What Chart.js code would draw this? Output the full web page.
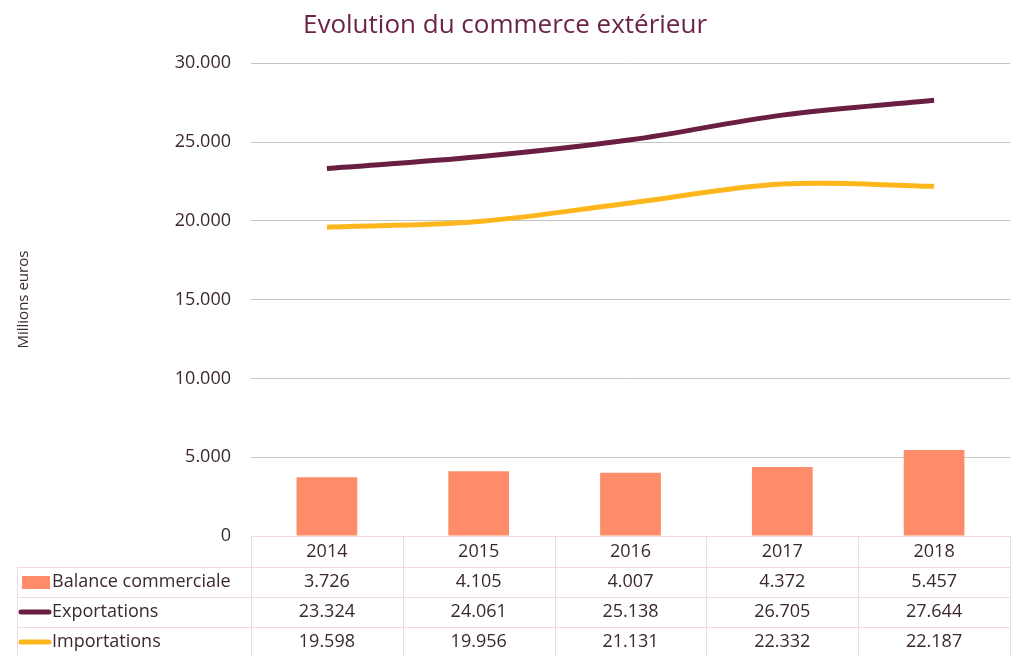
<!DOCTYPE html>
<html>
<head>
<meta charset="utf-8">
<script src="https://cdn.jsdelivr.net/npm/chart.js@4"></script>
<style>
    html, body { margin: 0; padding: 0; background: #fff; }
    #wrap { width: 1017px; height: 657px; }
</style>
</head>
<body>
<div id="wrap"><canvas id="chart"></canvas></div>
<script>
const years = ["2014", "2015", "2016", "2017", "2018"];
const balanceValues = [3726, 4105, 4007, 4372, 5457];
const exportValues = [23324, 24061, 25138, 26705, 27644];
const importValues = [19598, 19956, 21131, 22332, 22187];

const FONT = "'Open Sans', 'Noto Sans', sans-serif";
const TEXT_COLOR = "#3b2830";
const BORDER_COLOR = "#f0d9e5";

function formatNumber(value) {
    return String(value).replace(/\B(?=(\d{3})+(?!\d))/g, ".");
}

// table under the plot, columns follow the x scale
const dataTable = {
    id: "dataTable",
    afterDraw(chart) {
        const ctx = chart.ctx;
        const area = chart.chartArea;
        const xScale = chart.scales.x;
        const colWidth = (area.right - area.left) / years.length;
        const rowHeight = 30;
        const tableLeft = 17;
        const headerTop = area.bottom;
        const rowsTop = headerTop + 31;

        const rows = chart.data.datasets.map(ds => ({
            label: ds.label,
            values: ds.data,
            color: ds.borderColor,
            isBar: ds.type === "bar"
        }));
        rows.sort((a, b) => (a.isBar ? -1 : 0) - (b.isBar ? -1 : 0));

        ctx.save();
        ctx.strokeStyle = BORDER_COLOR;
        ctx.lineWidth = 1;
        ctx.beginPath();
        ctx.moveTo(area.left, headerTop + 0.5);
        ctx.lineTo(area.right, headerTop + 0.5);
        for (let r = 0; r <= rows.length; r++) {
            const y = Math.round(rowsTop + r * rowHeight) + 0.5;
            ctx.moveTo(tableLeft, y);
            ctx.lineTo(area.right, y);
        }
        for (let c = 0; c <= years.length; c++) {
            const x = Math.round(area.left + c * colWidth) + 0.5;
            ctx.moveTo(x, headerTop);
            ctx.lineTo(x, rowsTop + rows.length * rowHeight);
        }
        ctx.moveTo(tableLeft + 0.5, rowsTop);
        ctx.lineTo(tableLeft + 0.5, rowsTop + rows.length * rowHeight);
        ctx.stroke();

        ctx.font = "18px " + FONT;
        ctx.fillStyle = TEXT_COLOR;
        ctx.textAlign = "center";
        ctx.textBaseline = "middle";
        years.forEach((year, i) => {
            ctx.fillText(year, xScale.getPixelForValue(i), headerTop + 16);
        });

        rows.forEach((row, r) => {
            const midY = rowsTop + r * rowHeight + rowHeight / 2;
            if (row.isBar) {
                ctx.fillStyle = row.color;
                ctx.fillRect(22, midY - 6, 28, 13);
            } else {
                ctx.strokeStyle = row.color;
                ctx.lineWidth = 5;
                ctx.lineCap = "round";
                ctx.beginPath();
                ctx.moveTo(21, midY);
                ctx.lineTo(49, midY);
                ctx.stroke();
            }
            ctx.fillStyle = TEXT_COLOR;
            ctx.textAlign = "left";
            ctx.fillText(row.label, 52, midY);
            ctx.textAlign = "center";
            row.values.forEach((v, i) => {
                ctx.fillText(formatNumber(v), xScale.getPixelForValue(i), midY);
            });
        });
        ctx.restore();
    }
};

new Chart(document.getElementById("chart"), {
    data: {
        labels: years,
        datasets: [
            {
                type: "line",
                label: "Exportations",
                data: exportValues,
                borderColor: "#6a1f42",
                borderWidth: 5,
                pointRadius: 0,
                tension: 0.35,
                order: 1
            },
            {
                type: "line",
                label: "Importations",
                data: importValues,
                borderColor: "#fdb71c",
                borderWidth: 5,
                pointRadius: 0,
                tension: 0.35,
                order: 2
            },
            {
                type: "bar",
                label: "Balance commerciale",
                data: balanceValues,
                backgroundColor: "#ff8c69",
                borderColor: "#ff8c69",
                categoryPercentage: 0.8,
                barPercentage: 0.5,
                order: 3
            }
        ]
    },
    options: {
        responsive: true,
        maintainAspectRatio: false,
        animation: false,
        layout: {padding: {top: 0, right: 7, bottom: 121, left: 0}},
        plugins: {
            legend: {display: false},
            tooltip: {enabled: false},
            title: {
                display: true,
                text: "Evolution du commerce extérieur",
                color: "#6b2448",
                font: {family: FONT, size: 26, weight: "normal"},
                padding: {top: 10, bottom: 22}
            }
        },
        scales: {
            x: {
                display: false,
                offset: true
            },
            y: {
                min: 0,
                max: 30000,
                ticks: {
                    stepSize: 5000,
                    color: TEXT_COLOR,
                    padding: 20,
                    font: {family: FONT, size: 18},
                    callback: value => formatNumber(value)
                },
                border: {display: false},
                grid: {color: "#c4c4c4", drawTicks: false},
                title: {
                    display: true,
                    text: "Millions euros",
                    color: TEXT_COLOR,
                    font: {family: FONT, size: 15},
                    padding: {top: 15, bottom: 0}
                },
                afterFit(scale) {
                    scale.width = 251;
                }
            }
        }
    },
    plugins: [dataTable]
});
</script>
</body>
</html>
